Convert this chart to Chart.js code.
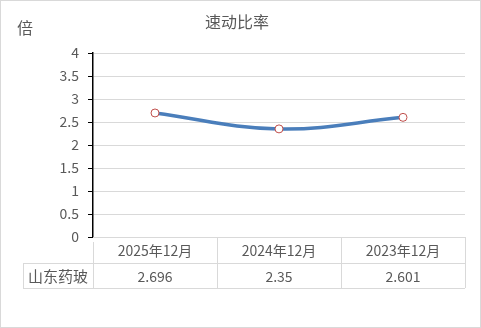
<!DOCTYPE html>
<html>
<head>
<meta charset="utf-8">
<script src="https://cdn.jsdelivr.net/npm/chart.js@4"></script>
<style>
  body { margin: 0; background: #fff; }
</style>
</head>
<body>
<canvas id="myChart" width="481" height="328"></canvas>
<script>
const title = '速动比率';
const unit = '倍';
const seriesName = '山东药玻';
const categories = ['2025年12月', '2024年12月', '2023年12月'];
const values = [2.696, 2.35, 2.601];
const yTicks = [0, 0.5, 1, 1.5, 2, 2.5, 3, 3.5, 4];

const font = '"Noto Sans CJK SC", "Liberation Sans", sans-serif';
const textColor = '#595959';
const lineGray = '#d9d9d9';

// draws title, unit label, outer frame and the data table under the plot
const extras = {
  id: 'extras',
  afterDraw(chart) {
    const c = chart.ctx;
    const area = chart.chartArea;
    const x = chart.scales.x;
    const rowH = 25.5;
    const top = area.bottom;
    const mid = top + rowH;
    const bot = top + rowH * 2;
    const labelLeft = 23;

    c.save();
    c.strokeStyle = lineGray;
    c.lineWidth = 1;
    c.strokeRect(0.5, 0.5, chart.width - 1, chart.height - 1);

    c.beginPath();
    c.moveTo(area.left, top + 0.5); c.lineTo(area.right, top + 0.5);
    c.moveTo(labelLeft, Math.round(mid) + 0.5); c.lineTo(area.right, Math.round(mid) + 0.5);
    c.moveTo(labelLeft, Math.round(bot) + 0.5); c.lineTo(area.right, Math.round(bot) + 0.5);
    c.moveTo(labelLeft + 0.5, Math.round(mid)); c.lineTo(labelLeft + 0.5, Math.round(bot));
    const step = (area.right - area.left) / categories.length;
    for (let i = 0; i <= categories.length; i++) {
      const lx = Math.round(area.left + step * i) + 0.5;
      c.moveTo(lx, i === 0 ? Math.round(top) + 5 : top); c.lineTo(lx, Math.round(bot));
    }
    c.stroke();

    c.fillStyle = textColor;
    c.textBaseline = 'middle';
    c.textAlign = 'center';
    c.font = '14px ' + font;
    categories.forEach((cat, i) => {
      const cx = x.getPixelForValue(i);
      c.fillText(cat, cx, (top + mid) / 2 + 1);
      c.fillText(String(values[i]), cx, (mid + bot) / 2 + 1);
    });
    c.font = '15px ' + font;
    c.fillText(seriesName, (labelLeft + area.left) / 2, (mid + bot) / 2 + 1);

    c.font = '16px ' + font;
    c.fillText(title, 237, 22);
    c.textAlign = 'left';
    c.fillText(unit, 17, 28);
    c.restore();
  }
};

new Chart(document.getElementById('myChart'), {
  type: 'line',
  data: {
    labels: categories,
    datasets: [{
      label: seriesName,
      data: values,
      borderColor: '#4a7ebb',
      borderWidth: 3.5,
      tension: 0.4,
      pointRadius: 4,
      pointBackgroundColor: '#ffffff',
      pointBorderColor: '#c0504d',
      pointBorderWidth: 1
    }]
  },
  options: {
    responsive: false,
    animation: false,
    layout: { padding: { top: 53, right: 16, bottom: 40, left: 0 } },
    plugins: { legend: { display: false }, tooltip: { enabled: false } },
    scales: {
      x: {
        offset: true,
        ticks: { display: false },
        grid: { display: false },
        border: { display: false },
        afterFit(s) { s.height = 51; }
      },
      y: {
        min: 0,
        max: 4,
        afterBuildTicks(s) { s.ticks = yTicks.map(v => ({ value: v })); },
        ticks: {
          color: textColor,
          font: { family: font, size: 14 },
          padding: 9,
          callback: v => String(v)
        },
        grid: { color: lineGray, tickColor: '#000000', tickLength: 5 },
        border: { color: '#000000', width: 1.5 },
        afterFit(s) { s.width = 93; }
      }
    }
  },
  plugins: [extras]
});
</script>
</body>
</html>
